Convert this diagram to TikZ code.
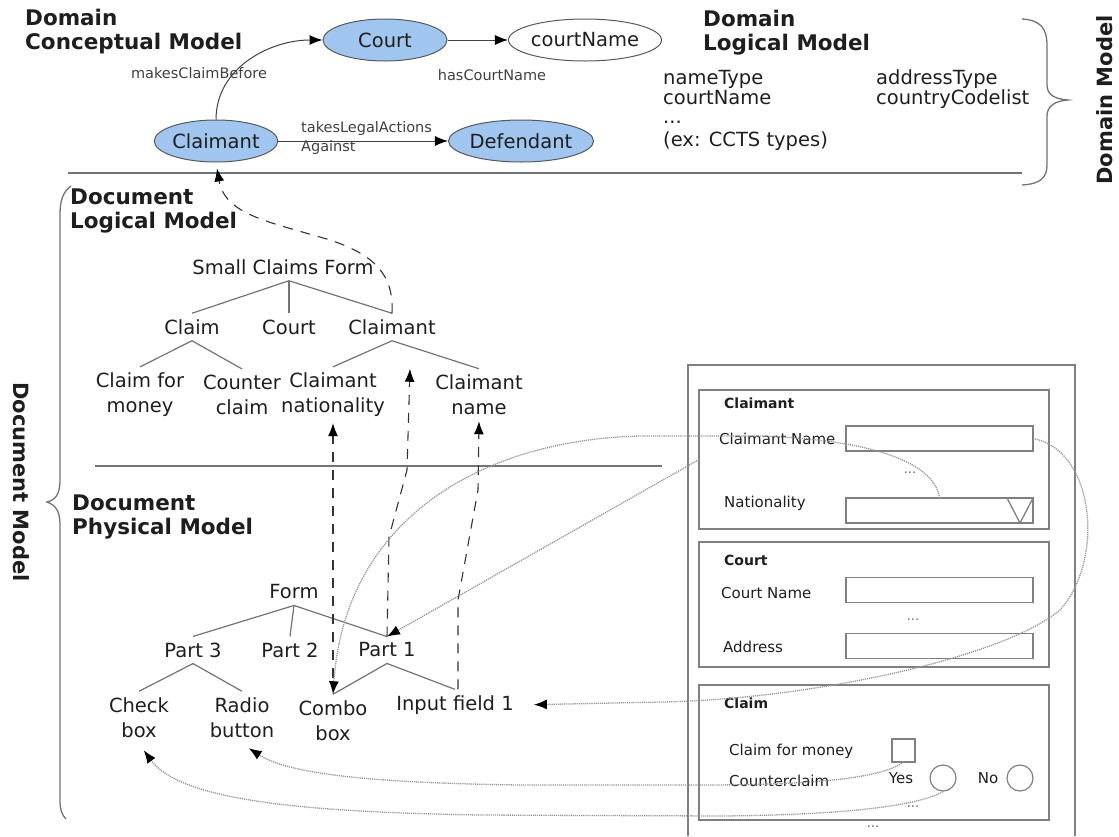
\documentclass[tikz,border=0pt]{standalone}
\usepackage{fontspec}
\setmainfont{DejaVu Sans}
\usepackage{tikz}
\usetikzlibrary{shapes.geometric, arrows.meta, positioning, calc}

\definecolor{conceptblue}{RGB}{160,197,238}
\definecolor{inkgray}{RGB}{30,30,30}
\definecolor{linegray}{RGB}{115,115,115}
\definecolor{dotgray}{RGB}{150,150,150}
\newcommand{\txtsize}[2]{\fontsize{#1}{#2}\selectfont}

\begin{document}
\begin{tikzpicture}[x=1pt, y=-1pt, >={Latex[length=13pt,width=10pt,color=black]},
  heading/.style={font=\bfseries\txtsize{21.5}{24}, align=left, anchor=north west, inner sep=0pt, text=inkgray},
  concept/.style={ellipse, draw=black!65, line width=1pt, fill=conceptblue, minimum height=42pt, inner sep=0pt, font=\txtsize{19.5}{22}, text=inkgray},
  relation/.style={font=\txtsize{14.5}{19}, inner sep=0pt, text=black!75},
  typeitem/.style={font=\txtsize{19.5}{24}, anchor=base west, inner sep=0pt, text=inkgray},
  sidelabel/.style={font=\bfseries\txtsize{21}{21}, inner sep=0pt, text=inkgray},
  treeitem/.style={font=\txtsize{19.5}{25}, align=center, inner sep=6pt, text=inkgray},
  branch/.style={draw=linegray, line width=1.2pt},
  rule/.style={draw=linegray, line width=1.4pt},
  bracket/.style={draw=linegray, line width=1.3pt},
  link/.style={draw=black!75, line width=1pt},
  trace/.style={draw=black!80, line width=1.1pt, dash pattern=on 10pt off 8pt},
  bind/.style={draw=dotgray, line width=1.3pt, dash pattern=on 1.2pt off 0.9pt},
  panel/.style={draw=black!50, line width=1.3pt, inner sep=0pt, outer sep=0pt, minimum width=350pt},
  fieldbox/.style={draw=black!50, line width=1.2pt, inner sep=0pt, outer sep=0pt, minimum width=187pt, minimum height=25pt},
  formtext/.style={font=\txtsize{15}{18}, anchor=west, inner sep=0pt, text=inkgray},
  formhead/.style={font=\bfseries\txtsize{14}{18}, anchor=west, inner sep=0pt, text=inkgray},
  ellipsis/.style={font=\txtsize{13}{13}, inner sep=0pt, text=black!60},
]
\useasboundingbox (0,0) rectangle (1119,836);

% Domain conceptual model
\node[heading] (dcmtitle) at (25,9) {Domain\\Conceptual Model};
\node[concept, minimum width=124pt] (dcourt) at (385,40) {Court};
\node[concept, fill=white, minimum width=118pt] (dcourtname) at (585,40) {courtName};
\node[concept, minimum width=122pt] (dclaimant) at (216,141) {Claimant};
\node[concept, minimum width=112pt] (ddefendant) at (521,141) {Defendant};
\draw[link, ->] (dcourt) -- (dcourtname);
\draw[link, ->] (dclaimant) -- (ddefendant);
\draw[link, ->] (dclaimant.north) to[out=90, in=180] (dcourt.west);
\node[relation] (lblhas) at (492,75) {hasCourtName};
\node[relation] (lblmakes) at (199,73) {makesClaimBefore};
\node[relation, anchor=west, align=left] (lbltakes) at (301,138) {takesLegalActions\\Against};

% Domain logical model
\node[heading] (dlmtitle) at (703,10) {Domain\\Logical Model};
\node[typeitem] (tname) at (663,84) {nameType};
\node[typeitem] (taddress) at (876,84) {addressType};
\node[typeitem] (tcourt) at (663,104) {courtName};
\node[typeitem] (tcountry) at (876,104) {countryCodelist};
\node[typeitem] (tmore) at (663,123) {...};
\node[typeitem] (tccts) at (663,146) {(ex: CCTS types)};

% Domain model brace
\draw[bracket] (1022,19) .. controls (1040,20) and (1047,28) .. (1047,45) -- (1047,85)
  .. controls (1047,95) and (1055,99) .. (1068,100) .. controls (1055,101) and (1047,106) .. (1047,116)
  -- (1047,165) .. controls (1047,178) and (1040,184) .. (1022,185);
\node[sidelabel, rotate=90] (domlabel) at (1105,100) {Domain Model};

\draw[rule] (68,173) -- (1022,173);

% Document model brace
\draw[bracket] (71,186) .. controls (63,192) and (60,200) .. (60,215) -- (60,480)
  .. controls (60,495) and (55,500) .. (47,502) .. controls (55,505) and (60,510) .. (60,525)
  -- (60,800) .. controls (60,810) and (62,815) .. (66,819);
\node[sidelabel, rotate=-90] (doclabel) at (21,482) {Document Model};

% Document logical model
\node[heading] (dlgtitle) at (70,189) {Document\\Logical Model};
\node[treeitem] (lform) at (283,267) {Small Claims Form};
\node[treeitem] (lclaim) at (192,327) {Claim};
\node[treeitem] (lcourt) at (289,327) {Court};
\node[treeitem] (lclaimant) at (392,327) {Claimant};
\node[treeitem] (lmoney) at (140,395) {Claim for\\money};
\node[treeitem] (lcounter) at (242,395) {Counter\\claim};
\node[treeitem] (lnat) at (333,395) {Claimant\\nationality};
\node[treeitem] (lname) at (479,395) {Claimant\\name};
\draw[branch] (lform.south -| lcourt) -- (lclaim.north);
\draw[branch] (lform.south -| lcourt) -- (lcourt.north);
\draw[branch] (lform.south -| lcourt) -- (lclaimant.north);
\draw[branch] (lclaim.south) -- (lmoney.north);
\draw[branch] (lclaim.south) -- (lcounter.north);
\draw[branch] (lclaimant.south) -- (lnat.north);
\draw[branch] (lclaimant.south) -- (lname.north);

\draw[rule] (95,466) -- (662,466);

% Document physical model
\node[heading] (dphtitle) at (72,495) {Document\\Physical Model};
\node[treeitem] (pform) at (294,592) {Form};
\node[treeitem] (ppart3) at (193,650) {Part 3};
\node[treeitem] (ppart2) at (290,650) {Part 2};
\node[treeitem] (ppart1) at (387,650) {Part 1};
\node[treeitem] (pcheck) at (139,717.5) {Check\\box};
\node[treeitem] (pradio) at (242,717.5) {Radio\\button};
\node[treeitem] (pcombo) at (333,720.5) {Combo\\box};
\node[treeitem] (pinput) at (455,705) {Input field 1};
\draw[branch] (pform.south) -- (ppart3.north);
\draw[branch] (pform.south) -- (ppart2.north);
\draw[branch] (pform.south) -- (ppart1.north);
\draw[branch] (ppart3.south) -- (pcheck.north);
\draw[branch] (ppart3.south) -- (pradio.north);
\draw[branch] (ppart1.south) -- (pcombo.north);
\draw[branch] (ppart1.south) -- (pinput.north);

% Form mock-up
\draw[panel] (688,836) -- (688,365) -- (1075,365) -- (1075,836);
\node[panel, minimum height=139pt] (cpanel) at (874,459.5) {};
\node[formhead] (hclaimant) at (724,403) {Claimant};
\node[formtext] (fname) at (719,439) {Claimant Name};
\node[fieldbox] (namebox) at (939.5,438.5) {};
\node[ellipsis] (dots1) at (910,473) {...};
\node[formtext] (fnat) at (724,503) {Nationality};
\node[fieldbox] (natbox) at (939.5,510.5) {};
\draw[panel] ($(natbox.north east)+(-26,0)$) -- (natbox.north east) -- ($(natbox.south east)+(-13,0)$) -- cycle;

\node[panel, minimum height=125pt] (crtpanel) at (874,604.5) {};
\node[formhead] (hcourt) at (724,560) {Court};
\node[formtext] (fcourtname) at (721,593) {Court Name};
\node[fieldbox] (crtnamebox) at (939.5,590) {};
\node[ellipsis] (dots2) at (913,620) {...};
\node[formtext] (faddress) at (723,647) {Address};
\node[fieldbox] (addrbox) at (939.5,646) {};

\node[panel, minimum height=135pt] (clmpanel) at (874,752.5) {};
\node[formhead] (hclaim) at (724,703) {Claim};
\node[formtext] (fmoney) at (729,751) {Claim for money};
\node[fieldbox, minimum width=23pt, minimum height=23pt] (cbox) at (903.5,750.5) {};
\node[formtext] (fcounter) at (729,781) {Counterclaim};
\node[formtext, anchor=center] (fyes) at (901,778) {Yes};
\node[circle, draw=black!50, line width=1.2pt, minimum size=26pt, inner sep=0pt] (yesradio) at (943,778) {};
\node[formtext, anchor=center] (fno) at (988,778) {No};
\node[circle, draw=black!50, line width=1.2pt, minimum size=26pt, inner sep=0pt] (noradio) at (1020,778) {};
\node[ellipsis] (dots3) at (913,807) {...};
\node[ellipsis] (dots4) at (873,827) {...};

% Traces between the models
\draw[trace, ->, shorten >=6pt] (lclaimant.north) .. controls (394,275) and (375,255) .. (330,240)
  .. controls (270,222) and (225,215) .. (dclaimant.south);
\draw[trace, ->, shorten <=16pt] (pcombo.north) -- (lnat.south);
\draw[trace, ->] (ppart1.north) -- (389,537) -- (407,470) -- ([shift={(18,28)}]lclaimant.south);
\draw[trace, ->] ([xshift=3pt]pinput.north) -- (458,600) -- (478,490) -- (lname.south);

% Widgets bound to the physical model
\draw[bind, ->] (natbox.north) .. controls (935,465) and (880,440) .. (760,436) -- (640,436)
  .. controls (480,440) and (345,520) .. (pcombo.north);
\draw[bind, ->] (cpanel.west) -- (ppart1.north);
\draw[bind, ->, shorten >=14pt] (namebox.east) .. controls (1095,450) and (1105,560) .. (1060,610)
  .. controls (1000,660) and (800,700) .. (660,702) -- (pinput.east);
\draw[bind, ->, shorten >=8pt] (cbox.south) .. controls (880,780) and (800,785) .. (700,785) -- (520,785)
  .. controls (380,783) and (290,775) .. (pradio.south);
\draw[bind, ->, shorten >=8pt] (yesradio.south) .. controls (920,805) and (850,815) .. (720,816) -- (480,815)
  .. controls (300,812) and (180,800) .. (pcheck.south);
\end{tikzpicture}
\end{document}
